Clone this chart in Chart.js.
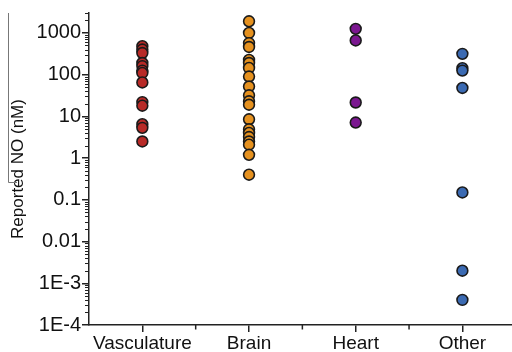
<!DOCTYPE html>
<html><head><meta charset="utf-8">
<script src="https://cdn.jsdelivr.net/npm/chart.js@4"></script>
<style>html,body{margin:0;padding:0;background:#fff}#wrap{width:512px;height:352px}</style>
</head><body><div id="wrap"><canvas id="c" width="512" height="352"></canvas></div>
<script>
const categories = ['Vasculature', 'Brain', 'Heart', 'Other'];
const vasculature = [480, 400, 330, 190, 160, 125, 110, 65, 22, 18, 6.5, 5.3, 2.5];
const brain = [1900, 1000, 570, 460, 225, 190, 145, 90, 52, 32, 23, 19, 8.5, 4.9, 4.0, 3.2, 2.5, 2.1, 1.2, 0.4];
const heart = [1250, 660, 21.5, 7.1];
const other = [315, 143, 125, 48, 0.15, 0.002, 0.0004];
const yTickValues = [1e-4, 1e-3, 0.01, 0.1, 1, 10, 100, 1000];
const yTickLabels = ['1E-4', '1E-3', '0.01', '0.1', '1', '10', '100', '1000'];
const seriesColors = ['#b82a27', '#e5911f', '#7b1790', '#3b6ab2'];

const seriesValues = [vasculature, brain, heart, other];
const datasets = seriesValues.map((vals, i) => ({
  label: categories[i],
  data: vals.map(v => ({x: i, y: v})),
  backgroundColor: seriesColors[i],
  borderColor: '#1a1a1a',
  borderWidth: 1.6,
  pointRadius: 5.4,
  pointHoverRadius: 5.4
}));

const FONT = '"Liberation Sans", Arial, Helvetica, sans-serif';

const minorTicks = {
  id: 'minorTicks',
  afterDraw(chart) {
    const ctx = chart.ctx, y = chart.scales.y, x = chart.scales.x;
    ctx.save();
    ctx.strokeStyle = '#222';
    ctx.lineWidth = 1;
    for (let d = -4; d <= 3; d++) {
      for (let k = 2; k <= 9; k++) {
        const v = k * Math.pow(10, d);
        if (v > y.max) continue;
        const py = Math.round(y.getPixelForValue(v)) + 0.5;
        ctx.beginPath();
        ctx.moveTo(y.right - 4, py);
        ctx.lineTo(y.right, py);
        ctx.stroke();
      }
    }
    ctx.lineWidth = 1.5;
    for (let i = 0; i < categories.length - 1; i++) {
      const px = x.getPixelForValue(i + 0.5);
      ctx.beginPath();
      ctx.moveTo(px, x.top);
      ctx.lineTo(px, x.top + 4.5);
      ctx.stroke();
    }
    // scan artifact line next to axis title
    ctx.strokeStyle = '#777';
    ctx.lineWidth = 1;
    ctx.beginPath();
    ctx.moveTo(8.5, 13);
    ctx.lineTo(8.5, 182.5);
    ctx.lineTo(17, 182.5);
    ctx.stroke();
    ctx.restore();
  }
};

new Chart(document.getElementById('c'), {
  type: 'scatter',
  data: {datasets},
  plugins: [minorTicks],
  options: {
    responsive: false,
    animation: false,
    devicePixelRatio: 1,
    layout: {autoPadding: false, padding: {top: 13, right: 0, left: 0, bottom: 0}},
    plugins: {legend: {display: false}, tooltip: {enabled: false}},
    scales: {
      x: {
        type: 'linear',
        min: -0.5,
        max: 3.465,
        afterBuildTicks: s => { s.ticks = categories.map((c, i) => ({value: i})); },
        afterFit: s => { s.height = 27; s.paddingRight = 0; s.paddingLeft = 0; },
        ticks: {
          callback: v => categories[v],
          font: {family: FONT, size: 19},
          color: '#111',
          padding: 0,
          maxRotation: 0,
          autoSkip: false
        },
        grid: {display: true, drawOnChartArea: false, drawTicks: true, tickLength: 7, color: '#222', lineWidth: 1.5},
        border: {display: true, color: '#222', width: 1.5}
      },
      y: {
        type: 'logarithmic',
        min: 1e-4,
        max: 3000,
        afterBuildTicks: s => { s.ticks = yTickValues.map(v => ({value: v})); },
        afterFit: s => { s.width = 89; s.paddingTop = 0; s.paddingBottom = 0; },
        ticks: {
          callback: (v, i) => yTickLabels[i],
          font: {family: FONT, size: 20},
          color: '#111',
          padding: 1,
          autoSkip: false
        },
        grid: {display: true, drawOnChartArea: false, drawTicks: true, tickLength: 7, color: '#222', lineWidth: 1.5},
        border: {display: true, color: '#222', width: 1.5},
        title: {
          display: true,
          text: 'Reported NO (nM)',
          font: {family: FONT, size: 17},
          color: '#111',
          padding: {top: 8, bottom: 0}
        }
      }
    }
  }
});
</script>
</body></html>
